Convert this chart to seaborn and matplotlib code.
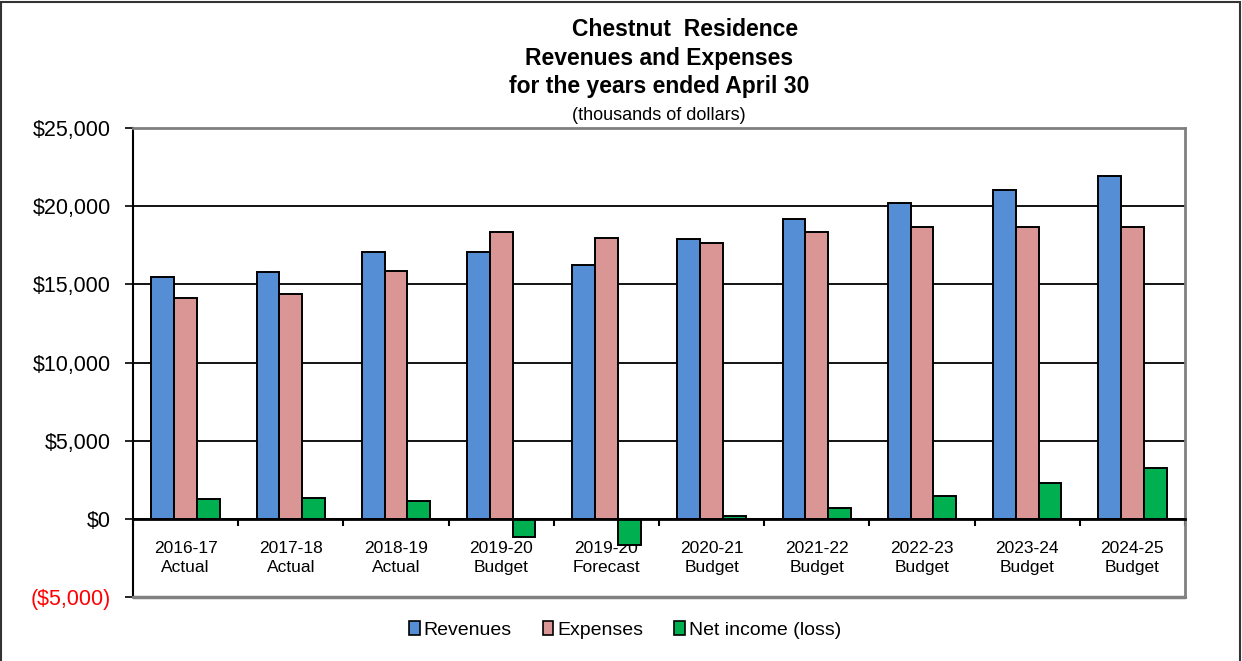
import numpy as np
import pandas as pd
import matplotlib
matplotlib.use("Agg")
import matplotlib.pyplot as plt
from matplotlib import font_manager
from matplotlib.patches import Patch, Rectangle
from matplotlib.ticker import FuncFormatter, FixedLocator
import seaborn as sns

periods = ["2016-17\nActual", "2017-18\nActual", "2018-19\nActual", "2019-20\nBudget",
           "2019-20\nForecast", "2020-21\nBudget", "2021-22\nBudget", "2022-23\nBudget",
           "2023-24\nBudget", "2024-25\nBudget"]
revenues = [15450, 15770, 17050, 17050, 16240, 17880, 19170, 20190, 21030, 21940]
expenses = [14140, 14400, 15870, 18330, 17990, 17630, 18330, 18670, 18670, 18670]
net_income = [1240, 1350, 1150, -1180, -1650, 190, 680, 1490, 2310, 3240]
series_names = ["Revenues", "Expenses", "Net income (loss)"]
colors = ["#558ED5", "#D99694", "#00B050"]
y_ticks = [-5000, 0, 5000, 10000, 15000, 20000, 25000]

sns.set_theme(style="white")
installed = {f.name for f in font_manager.fontManager.ttflist}
base_font = "Liberation Sans" if "Liberation Sans" in installed else "DejaVu Sans"
narrow_font = "Liberation Sans Narrow" if "Liberation Sans Narrow" in installed else base_font
plt.rcParams["font.family"] = [base_font, "DejaVu Sans"]
plt.rcParams["text.color"] = "black"
plt.rcParams["xtick.color"] = "black"
plt.rcParams["ytick.color"] = "black"
plt.rcParams["axes.labelcolor"] = "black"

df = pd.DataFrame({
    "period": periods * 3,
    "series": sum([[s] * len(periods) for s in series_names], []),
    "value": revenues + expenses + net_income,
})

fig = plt.figure(figsize=(12.42, 6.61), dpi=100)
ax = fig.add_axes([133 / 1242, 1 - 597 / 661, (1185 - 133) / 1242, (597 - 128) / 661])

sns.barplot(data=df, x="period", y="value", hue="series", order=periods,
            hue_order=series_names, palette=colors, width=0.65,
            edgecolor="black", linewidth=1.4, saturation=1, ax=ax, legend=False)

ax.set_ylim(-5000, 25000)
ax.set_xlim(-0.5, len(periods) - 0.5)
ax.set_xlabel("")
ax.set_ylabel("")

# gridlines
ax.set_yticks(y_ticks)
ax.yaxis.grid(True, color="black", linewidth=1.3)
ax.set_axisbelow(True)

def money(v, pos=None):
    if v < 0:
        return "(${:,.0f})".format(-v)
    return "${:,.0f}".format(v)

ax.yaxis.set_major_formatter(FuncFormatter(money))
ax.tick_params(axis="y", direction="out", length=6, width=1.2, color="black",
               labelsize=15.5, pad=10, left=True)
for lbl, v in zip(ax.get_yticklabels(), y_ticks):
    lbl.set_color("red" if v < 0 else "black")

# x axis at zero
ax.spines["bottom"].set_position(("data", 0))
ax.spines["bottom"].set_color("black")
ax.spines["bottom"].set_linewidth(2)
ax.spines["left"].set_color("black")
ax.spines["left"].set_linewidth(1.5)
for s in ["top", "right"]:
    ax.spines[s].set_color("#808080")
    ax.spines[s].set_linewidth(2)
ax.axhline(-5000, color="#808080", linewidth=2.5, clip_on=False, zorder=5)

ax.set_xticks(np.arange(len(periods)))
ax.set_xticklabels(periods, fontfamily=narrow_font, fontsize=12.5, linespacing=1.3)
ax.xaxis.set_minor_locator(FixedLocator(np.arange(-0.5, len(periods), 1.0)))
ax.tick_params(axis="x", which="major", length=0, pad=16, colors="black", bottom=True)
ax.tick_params(axis="x", which="minor", length=5, width=1.5, direction="out",
               color="black", bottom=True)

# title
fig.text(685 / 1242, 1 - 29 / 661, "Chestnut  Residence", ha="center", va="center",
         fontsize=16.5, fontweight="bold", color="black")
fig.text(659 / 1242, 1 - 58 / 661, "Revenues and Expenses", ha="center", va="center",
         fontsize=16.5, fontweight="bold", color="black")
fig.text(659 / 1242, 1 - 87 / 661, "for the years ended April 30", ha="center", va="center",
         fontsize=16.5, fontweight="bold", color="black")
fig.text(659 / 1242, 1 - 115 / 661, "(thousands of dollars)", ha="center", va="center",
         fontsize=13, color="black")

# legend
handles = [Patch(facecolor=c, edgecolor="black", linewidth=1.2, label=n)
           for c, n in zip(colors, series_names)]
fig.legend(handles=handles, loc="center", bbox_to_anchor=(625 / 1242, 1 - 630 / 661),
           ncol=3, frameon=False, fontsize=14, handlelength=0.55, handleheight=0.7,
           handletextpad=0.2, columnspacing=1.6, labelcolor="black")

# figure border
fig.patches.append(Rectangle((1 / 1242, -0.01), 1239 / 1242, 1 - 2 / 661 + 0.01,
                             transform=fig.transFigure, fill=False,
                             edgecolor="#333333", linewidth=1.5))

fig.savefig("out.png", dpi=100)
